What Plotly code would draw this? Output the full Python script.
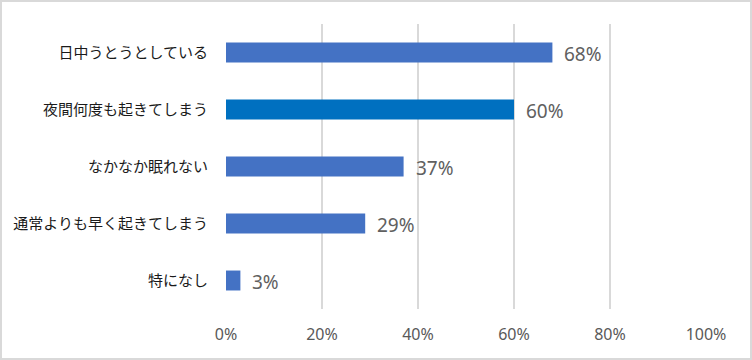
import plotly.graph_objects as go

categories = ["日中うとうとしている", "夜間何度も起きてしまう", "なかなか眠れない", "通常よりも早く起きてしまう", "特になし"]
values = [0.68, 0.60, 0.37, 0.29, 0.03]
bar_colors = ["#4472C4", "#0070C0", "#4472C4", "#4472C4", "#4472C4"]
tick_vals = [0, 0.2, 0.4, 0.6, 0.8, 1.0]
tick_text = ["0%", "20%", "40%", "60%", "80%", "100%"]

W, H = 752, 360
L, R, T, B = 226, 46, 24, 51
pw = W - L - R
ph = H - T - B

fig = go.Figure()
fig.add_trace(go.Bar(
    x=values, y=categories, orientation="h",
    marker=dict(color=bar_colors, line=dict(width=0)),
    hoverinfo="skip",
))

for v, c in zip(values, categories):
    fig.add_annotation(
        x=v, y=c, xref="x", yref="y", text=f"{round(v*100)}%",
        showarrow=False, xanchor="left", yanchor="middle", xshift=10, yshift=-1,
        font=dict(family="Noto Sans, Noto Sans CJK JP", size=19, color="#606060"),
    )

fig.add_shape(type="rect", xref="paper", yref="paper",
              x0=-(L - 1)/pw, x1=(W - L - 1)/pw,
              y0=-(B - 1)/ph, y1=1 + (T - 1)/ph,
              line=dict(color="#D9D9D9", width=2), layer="below")

fig.update_layout(
    width=W, height=H,
    margin=dict(l=L, r=R, t=T, b=B),
    paper_bgcolor="white", plot_bgcolor="white",
    bargap=0.65,
    showlegend=False,
    font=dict(family="Noto Sans CJK JP", color="#595959"),
)
fig.update_xaxes(
    range=[0, 1.0], tickvals=tick_vals, ticktext=tick_text,
    showgrid=True, gridcolor="#D9D9D9", gridwidth=1.5,
    zeroline=False, showline=False,
    ticks="outside", ticklen=11, tickcolor="rgba(0,0,0,0)",
    tickfont=dict(family="Noto Sans, Noto Sans CJK JP", size=16, color="#595959"),
    fixedrange=True,
)
fig.update_yaxes(
    categoryorder="array", categoryarray=categories[::-1],
    showgrid=False, zeroline=False, showline=False,
    ticks="outside", ticklen=14, tickcolor="rgba(0,0,0,0)",
    tickfont=dict(family="Noto Sans CJK JP", size=15, color="#1a1a1a"),
    fixedrange=True,
)

fig.write_html(
    "out.html",
    config={"displayModeBar": False},
    post_script="document.body.style.margin='0';document.body.style.padding='0';",
)
